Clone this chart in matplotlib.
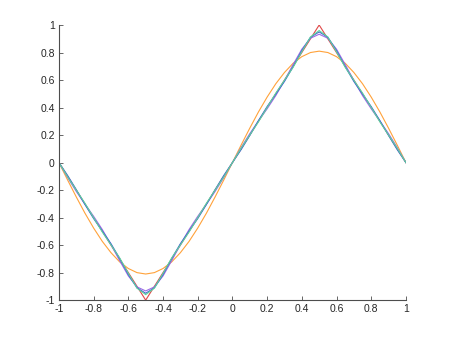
import matplotlib.pyplot as plt
import numpy as np

# sample positions read along the x axis
x = [-1.0, -0.95, -0.9, -0.85, -0.8, -0.75, -0.7, -0.65, -0.6, -0.55, -0.5,
     -0.45, -0.4, -0.35, -0.3, -0.25, -0.2, -0.15, -0.1, -0.05, 0.0,
     0.05, 0.1, 0.15, 0.2, 0.25, 0.3, 0.35, 0.4, 0.45, 0.5,
     0.55, 0.6, 0.65, 0.7, 0.75, 0.8, 0.85, 0.9, 0.95, 1.0]

orange = [0, -0.127, -0.250, -0.368, -0.476, -0.573, -0.655, -0.722, -0.770, -0.800, -0.810,
          -0.800, -0.770, -0.722, -0.655, -0.573, -0.476, -0.368, -0.250, -0.127, 0,
          0.127, 0.250, 0.368, 0.476, 0.573, 0.655, 0.722, 0.770, 0.800, 0.810,
          0.800, 0.770, 0.722, 0.655, 0.573, 0.476, 0.368, 0.250, 0.127, 0]

purple = [0, -0.109, -0.210, -0.302, -0.391, -0.487, -0.596, -0.713, -0.824, -0.904, -0.933,
          -0.904, -0.824, -0.713, -0.596, -0.487, -0.391, -0.302, -0.210, -0.109, 0,
          0.109, 0.210, 0.302, 0.391, 0.487, 0.596, 0.713, 0.824, 0.904, 0.933,
          0.904, 0.824, 0.713, 0.596, 0.487, 0.391, 0.302, 0.210, 0.109, 0]

blue = [0, -0.094, -0.197, -0.305, -0.407, -0.498, -0.590, -0.697, -0.814, -0.911, -0.950,
        -0.911, -0.814, -0.697, -0.590, -0.498, -0.407, -0.305, -0.197, -0.094, 0,
        0.094, 0.197, 0.305, 0.407, 0.498, 0.590, 0.697, 0.814, 0.911, 0.950,
        0.911, 0.814, 0.697, 0.590, 0.498, 0.407, 0.305, 0.197, 0.094, 0]

green = [0, -0.104, -0.200, -0.296, -0.401, -0.505, -0.599, -0.693, -0.805, -0.913, -0.960,
         -0.913, -0.805, -0.693, -0.599, -0.505, -0.401, -0.296, -0.200, -0.104, 0,
         0.104, 0.200, 0.296, 0.401, 0.505, 0.599, 0.693, 0.805, 0.913, 0.960,
         0.913, 0.805, 0.693, 0.599, 0.505, 0.401, 0.296, 0.200, 0.104, 0]

# exact triangle wave corners
tri_x = [-1, -0.5, 0.5, 1]
tri_y = [0, -1, 1, 0]

ticks = [-1, -0.8, -0.6, -0.4, -0.2, 0, 0.2, 0.4, 0.6, 0.8, 1]
tick_labels = ['-1', '-0.8', '-0.6', '-0.4', '-0.2', '0', '0.2', '0.4', '0.6', '0.8', '1']

plt.rcParams['font.family'] = ['Liberation Sans', 'DejaVu Sans']

fig = plt.figure(figsize=(4.5, 3.38), dpi=100)
ax = fig.add_axes([0.131, 0.112, 0.771, 0.814])

ax.plot(tri_x, tri_y, color='#e04848', lw=0.8)
ax.plot(x, orange, color='#ffa23a', lw=0.8)
ax.plot(x, purple, color='#9d6be6', lw=0.8)
ax.plot(x, blue, color='#3f62cf', lw=0.8)
ax.plot(x, green, color='#5cd49e', lw=0.8)

ax.set_xlim(-1, 1)
ax.set_ylim(-1, 1)
ax.set_xticks(ticks)
ax.set_xticklabels(tick_labels)
ax.set_yticks(ticks)
ax.set_yticklabels(tick_labels)

for s in ['top', 'right']:
    ax.spines[s].set_visible(False)
for s in ['left', 'bottom']:
    ax.spines[s].set_color('#4d4d4d')
    ax.spines[s].set_linewidth(0.8)
ax.tick_params(direction='in', length=3, width=0.6, colors='#4d4d4d',
               labelsize=7.5, labelcolor='#262626', pad=3)

fig.savefig('out.png', dpi=100)
